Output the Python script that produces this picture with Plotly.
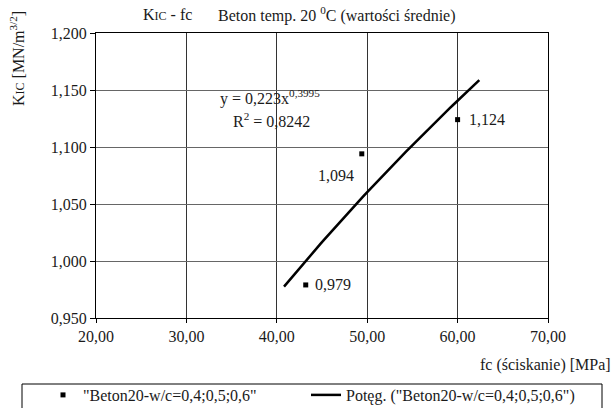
import numpy as np
import plotly.graph_objects as go

# ---- data ----
fc_values = [43.2, 49.4, 60.0]          # fc (ściskanie) [MPa]
kic_values = [0.979, 1.094, 1.124]      # KIC [MN/m^3/2]
point_labels = ["0,979", "1,094", "1,124"]
series_name = '"Beton20-w/c=0,4;0,5;0,6"'
trend_name = 'Potęg. ("Beton20-w/c=0,4;0,5;0,6")'
trend_range = [40.8, 62.4]
x_ticks = [20, 30, 40, 50, 60, 70]
y_ticks = [0.95, 1.0, 1.05, 1.1, 1.15, 1.2]
eq_text = "y = 0,223x<sup>0,3995</sup>"
r2_text = "R<sup>2</sup> = 0,8242"

# power regression (Excel-style trendline) computed from the data
b, ln_a = np.polyfit(np.log(fc_values), np.log(kic_values), 1)
trend_x = np.linspace(trend_range[0], trend_range[1], 60)
trend_y = np.exp(ln_a) * trend_x ** b

FONT = "'Liberation Serif', 'Times New Roman', Times, 'DejaVu Serif', serif"
TXT = "#1a1a1a"
W, H = 613, 408
L, R, T, B = 96, 65, 33, 90
pw, ph = W - L - R, H - T - B

def px(xs):
    return (xs - L) / pw

def py(ys):
    return (H - B - ys) / ph

fig = go.Figure()
fig.add_trace(go.Scatter(
    x=fc_values, y=kic_values, mode="markers", name=series_name,
    marker=dict(symbol="square", size=5, color="black"),
    legend="legend", showlegend=True, cliponaxis=False))
fig.add_trace(go.Scatter(
    x=trend_x, y=trend_y, mode="lines", name=trend_name,
    line=dict(color="black", width=2.5), legend="legend2", showlegend=True))

# data labels
label_pos = [(7, 0, "left", "middle"), (-6, 11, "right", "top"), (9, 0, "left", "middle")]
for xv, yv, t, (dx, dy, xa, ya) in zip(fc_values, kic_values, point_labels, label_pos):
    fig.add_annotation(x=xv, y=yv, text=t, showarrow=False, xanchor=xa, yanchor=ya,
                       xshift=dx, yshift=-dy, font=dict(family=FONT, size=16, color=TXT))

fig.add_annotation(x=px(218), y=py(97), xref="paper", yref="paper", text=eq_text,
                   showarrow=False, xanchor="left", yanchor="middle",
                   font=dict(family=FONT, size=16, color=TXT))
fig.add_annotation(x=px(231), y=py(120), xref="paper", yref="paper", text=r2_text,
                   showarrow=False, xanchor="left", yanchor="middle",
                   font=dict(family=FONT, size=16, color=TXT))

# title
fig.add_annotation(x=px(141), y=py(14), xref="paper", yref="paper",
                   text='K<span style="font-size:12px">IC</span> - fc',
                   showarrow=False, xanchor="left", yanchor="middle",
                   font=dict(family=FONT, size=16, color=TXT))
fig.add_annotation(x=px(216), y=py(14), xref="paper", yref="paper",
                   text="Beton temp. 20 <sup>0</sup>C (wartości średnie)",
                   showarrow=False, xanchor="left", yanchor="middle",
                   font=dict(family=FONT, size=16, color=TXT))
# axis titles
fig.add_annotation(x=px(613), y=py(365), xref="paper", yref="paper",
                   text="fc (ściskanie) [MPa]", showarrow=False,
                   xanchor="right", yanchor="middle",
                   font=dict(family=FONT, size=16, color=TXT))
fig.add_annotation(x=px(17), y=py(59), xref="paper", yref="paper",
                   text='K<span style="font-size:12px">IC</span> [MN/m<sup>3/2</sup>]',
                   showarrow=False, textangle=-90, xanchor="center", yanchor="middle",
                   font=dict(family=FONT, size=16, color=TXT))

# legend frame
fig.add_shape(type="rect", xref="paper", yref="paper",
              x0=px(22), x1=px(602), y0=py(420), y1=py(384),
              line=dict(color="black", width=1), fillcolor="white", layer="below")

legend_common = dict(orientation="h", yanchor="middle", xanchor="left",
                     bgcolor="rgba(0,0,0,0)", borderwidth=0, itemwidth=30,
                     font=dict(family=FONT, size=16, color=TXT))

fig.update_layout(
    width=W, height=H, margin=dict(l=L, r=R, t=T, b=B, autoexpand=False),
    paper_bgcolor="white", plot_bgcolor="white",
    separators=",.",
    font=dict(family=FONT, size=16, color=TXT),
    xaxis=dict(range=[20, 70], tickvals=x_ticks, tickformat=".2f",
               showgrid=True, gridcolor="#333", gridwidth=1,
               showline=True, linecolor="black", linewidth=1, mirror=True,
               ticks="outside", ticklen=4, tickcolor="black", zeroline=False,
               tickfont=dict(family=FONT, size=16, color=TXT)),
    yaxis=dict(range=[0.95, 1.2], tickvals=y_ticks, tickformat=".3f",
               showgrid=True, gridcolor="#666", gridwidth=1.3,
               showline=True, linecolor="black", linewidth=1, mirror=True,
               ticks="outside", ticklen=5, tickcolor="black", zeroline=False,
               tickfont=dict(family=FONT, size=16, color=TXT)),
    legend=dict(x=px(43), y=py(395), **legend_common),
    legend2=dict(x=px(306), y=py(395), **legend_common),
)

fig.write_html(
    "out.html",
    config={"displayModeBar": False},
    post_script="document.body.style.margin='0';document.body.style.overflow='hidden';",
)
